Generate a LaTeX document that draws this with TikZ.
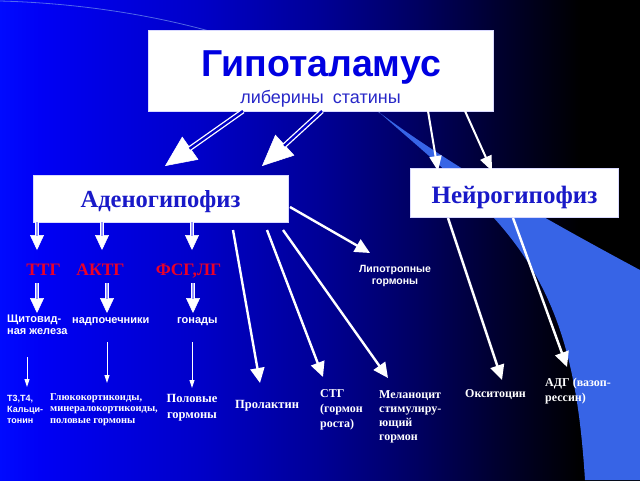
\documentclass[tikz,border=0pt]{standalone}
\usepackage{fontspec}
\setmainfont{Liberation Serif}
\setsansfont{Liberation Sans}
\usetikzlibrary{arrows.meta,calc}
\definecolor{bg0}{RGB}{0,10,255}
\definecolor{bga}{RGB}{0,0,245}
\definecolor{bg1}{RGB}{0,0,200}
\definecolor{bg2}{RGB}{0,0,150}
\definecolor{bg3}{RGB}{0,0,95}
\definecolor{bg4}{RGB}{0,0,45}
\definecolor{bg5}{RGB}{0,0,12}
\definecolor{swoosh}{RGB}{55,100,230}
\definecolor{hypblue}{RGB}{0,0,225}
\definecolor{subblue}{RGB}{40,40,200}
\definecolor{boxblue}{RGB}{25,25,200}
\definecolor{redtxt}{RGB}{235,0,40}
\pgfdeclarehorizontalshading{bgshade}{100bp}{color(0bp)=(bg0); color(25bp)=(bg0); color(28.1bp)=(bga); color(40.6bp)=(bg1); color(50bp)=(bg2); color(57.8bp)=(bg3); color(64.1bp)=(bg4); color(68.75bp)=(bg5); color(70.3bp)=(black); color(100bp)=(black)}
\tikzset{
  box/.style={fill=white, draw=white!85!blue, line width=0.6pt, inner sep=0pt},
  wl/.style={text=white, inner sep=0pt, font=\bfseries\fontsize{12}{15}\selectfont},
  ws/.style={text=white, inner sep=0pt, font=\sffamily\bfseries\fontsize{11}{12}\selectfont},
  red/.style={text=redtxt, inner sep=0pt, font=\bfseries\fontsize{17.5}{19}\selectfont},
  bigshaft/.style={draw=white, line width=1.3pt, double=bg1, double distance=2.4pt},
  bighead/.style={draw=white, line width=0.5pt, -{Triangle[length=31pt,width=28pt]}},
  midshaft/.style={draw=white, line width=1pt, double=white!60!blue, double distance=1.6pt},
  midhead/.style={draw=white, line width=0.5pt, -{Triangle[length=15pt,width=14pt]}},
  longarrow/.style={draw=white, line width=2.4pt, -{Triangle[length=15pt,width=14pt]}},
  narrow/.style={draw=white, line width=2pt, -{Triangle[length=15pt,width=12pt]}},
  thinarrow/.style={draw=white, line width=0.9pt, -{Triangle[length=8pt,width=5pt]}}
}
\begin{document}
\begin{tikzpicture}[x=1pt,y=-1pt]
\shade[shading=bgshade] (0,0) rectangle (640,480);
\useasboundingbox (0,0) rectangle (640,480);
% swoosh
\fill[swoosh] (380,113) .. controls (430,150) and (500,195) .. (640,270) -- (640,480) -- (585,480)
  .. controls (578,370) and (560,290) .. (493,217) .. controls (450,172) and (410,140) .. (380,113) -- cycle;
\draw[swoosh!70!white, line width=0.8pt, opacity=0.7] (0,1) .. controls (150,5) and (300,45) .. (380,113);

% boxes
\node[box, minimum width=345pt, minimum height=81pt] (hyp) at (320.5,70.5) {};
\node[text=hypblue, inner sep=0pt, anchor=base, font=\sffamily\bfseries\fontsize{37.5}{40}\selectfont] (hypt) at (321,76) {Гипоталамус};
\node[text=subblue, inner sep=0pt, anchor=base, font=\sffamily\fontsize{18}{20}\selectfont] (hyps) at (320.5,103) {либерины\hspace{9pt}статины};

\node[box, minimum width=255pt, minimum height=47pt] (adeno) at (160.5,198.5) {};
\node[text=boxblue, inner sep=0pt, anchor=base, font=\bfseries\fontsize{24.5}{26}\selectfont] (adenot) at (160.5,207) {Аденогипофиз};

\node[box, minimum width=208pt, minimum height=49pt] (neuro) at (514.5,192.5) {};
\node[text=boxblue, inner sep=0pt, anchor=base, font=\bfseries\fontsize{25}{27}\selectfont] (neurot) at (514.5,203) {Нейрогипофиз};

% red labels
\node[red, anchor=base] (ttg) at (43.5,275) {ТТГ};
\node[red, anchor=base] (aktg) at (100.5,275) {АКТГ};
\node[red, anchor=base] (fsg) at (188.5,275) {ФСГ,ЛГ};

% white sans labels
\node[ws, anchor=north west, align=left] (shch) at (7,315) {Щитовид-\\ная железа};
\node[ws, anchor=base west] (nadp) at (72,323) {надпочечники};
\node[ws, anchor=base west] (gonad) at (177,323) {гонады};
\node[ws, anchor=north, align=center, font=\sffamily\bfseries\fontsize{10.5}{12}\selectfont] (lipo) at (395,265.5) {Липотропные\\гормоны};

% bottom labels
\node[ws, anchor=north west, align=left, font=\sffamily\bfseries\fontsize{9}{11}\selectfont] (t34) at (7,395.5) {Т3,Т4,\\Кальци-\\тонин};
\node[wl, anchor=north west, align=left, font=\bfseries\fontsize{10.5}{11.5}\selectfont] (gluco) at (50,393) {Глюкокортикоиды,\\минералокортикоиды,\\половые гормоны};
\node[wl, anchor=north, align=center, font=\bfseries\fontsize{12.5}{16}\selectfont] (polov) at (192,393.7) {Половые\\гормоны};
\node[wl, anchor=base west, font=\bfseries\fontsize{12.5}{15}\selectfont] (prol) at (235,408) {Пролактин};
\node[wl, anchor=north west, align=left] (stg) at (320,389) {СТГ\\(гормон\\роста)};
\node[wl, anchor=north west, align=left, font=\bfseries\fontsize{12}{14}\selectfont] (mel) at (379,390) {Меланоцит\\стимулиру-\\ющий\\гормон};
\node[wl, anchor=base west] (oks) at (465,397) {Окситоцин};
\node[wl, anchor=north west, align=left] (adg) at (545,377.5) {АДГ (вазоп-\\рессин)};

% arrow end coordinates
\coordinate (a1s) at (243,111); \coordinate (a1e) at (165,166);
\coordinate (a2s) at (322,111); \coordinate (a2e) at (262,166);
\coordinate (n1s) at (428,111); \coordinate (n1e) at (438,171);
\coordinate (n2s) at (465,111); \coordinate (n2e) at (492,171);
\coordinate (d1s) at (37,222); \coordinate (d1e) at (37,250);
\coordinate (d2s) at (102,222); \coordinate (d2e) at (102,250);
\coordinate (d3s) at (192,222); \coordinate (d3e) at (192,250);
\coordinate (r1s) at (37,283); \coordinate (r1e) at (37,313);
\coordinate (r2s) at (107,283); \coordinate (r2e) at (107,313);
\coordinate (r3s) at (193,283); \coordinate (r3e) at (193,313);
\coordinate (t1s) at (27,357); \coordinate (t1e) at (27,387);
\coordinate (t2s) at (107,342); \coordinate (t2e) at (107,383);
\coordinate (t3s) at (192,342); \coordinate (t3e) at (192,388);
\coordinate (l1s) at (233,230); \coordinate (l1e) at (260,383);
\coordinate (l2s) at (267,230); \coordinate (l2e) at (323,377);
\coordinate (l3s) at (283,230); \coordinate (l3e) at (388,378);
\coordinate (l4s) at (290,207); \coordinate (l4e) at (370,253);
\coordinate (o1s) at (448,218); \coordinate (o1e) at (502,380);
\coordinate (o2s) at (513,218); \coordinate (o2e) at (567,367);

% big arrows hyp -> adeno
\foreach \i in {a1,a2}{
  \draw[bighead] ($(\i e)!32pt!(\i s)$) -- (\i e);
  \draw[bigshaft] (\i s) -- ($(\i e)!30pt!(\i s)$);
}
% hyp -> neuro
\draw[narrow] (n1s) -- (n1e);
\draw[narrow] (n2s) -- (n2e);
% adeno -> red labels, red -> organs
\foreach \i in {d1,d2,d3,r1,r2,r3}{
  \draw[midhead] ($(\i e)!16pt!(\i s)$) -- (\i e);
  \draw[midshaft] (\i s) -- ($(\i e)!14pt!(\i s)$);
}
% thin arrows
\foreach \i in {t1,t2,t3}{ \draw[thinarrow] (\i s) -- (\i e); }
% long arrows
\foreach \i in {l1,l2,l3,l4,o1,o2}{ \draw[longarrow] (\i s) -- (\i e); }
\end{tikzpicture}
\end{document}
